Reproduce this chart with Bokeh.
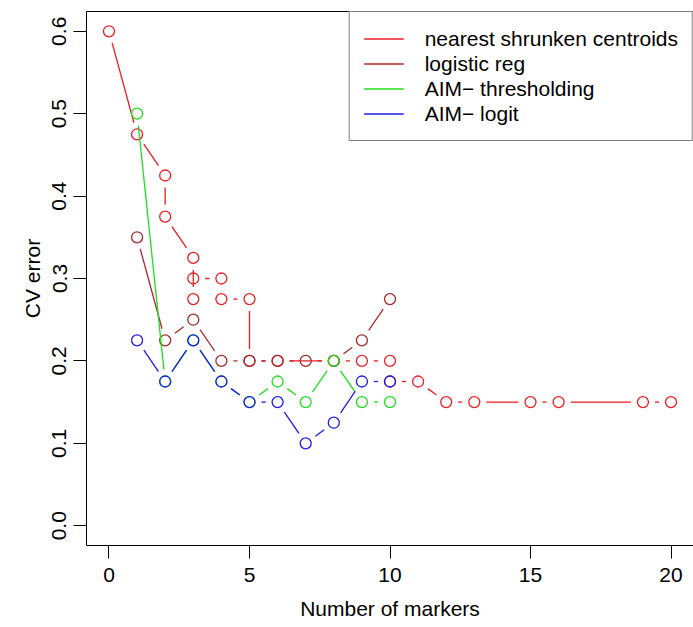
import math
from bokeh.plotting import figure
from bokeh.models import (Range1d, Legend, LegendItem, FixedTicker, LinearAxis,
                          NumeralTickFormatter, ColumnDataSource)
from bokeh.embed import file_html
from bokeh.resources import INLINE

# ---------------- data ----------------
nsc_markers = [0, 1, 2, 2, 3, 3, 3, 4, 4, 5, 5, 6, 8, 9, 10, 10, 11, 12, 13, 15, 16, 19, 20]
nsc_error = [0.6, 0.475, 0.425, 0.375, 0.325, 0.275, 0.3, 0.3, 0.275, 0.275, 0.2, 0.2,
             0.2, 0.2, 0.2, 0.175, 0.175, 0.15, 0.15, 0.15, 0.15, 0.15, 0.15]

lr_markers = [1, 2, 3, 4, 5, 6, 7, 8, 9, 10]
lr_error = [0.35, 0.225, 0.25, 0.2, 0.2, 0.2, 0.2, 0.2, 0.225, 0.275]

aimt_markers = [1, 2, 3, 4, 5, 6, 7, 8, 9, 10]
aimt_error = [0.5, 0.175, 0.225, 0.175, 0.15, 0.175, 0.15, 0.2, 0.15, 0.15]

aiml_markers = [1, 2, 3, 4, 5, 6, 7, 8, 9, 10]
aiml_error = [0.225, 0.175, 0.225, 0.175, 0.15, 0.15, 0.1, 0.125, 0.175, 0.175]

series_names = ["nearest shrunken centroids", "logistic reg",
                "AIM\u2212 thresholding", "AIM\u2212 logit"]
series_colors = ["#EE1C24", "#A52A2A", "#1EE01E", "#1C1CEE"]

x_ticks = [0, 5, 10, 15, 20]
y_ticks = [0.0, 0.1, 0.2, 0.3, 0.4, 0.5, 0.6]

# ---------------- layout ----------------
W, H = 693, 627
BL, BR, BT, BB = 86, 0, 11, 82
X0, X1 = -0.8, 20.8
Y0, Y1 = -0.024, 0.624
FW, FH = W - BL - BR, H - BT - BB
SX, SY = FW / (X1 - X0), FH / (Y1 - Y0)
GAP = 12.0  # pixel gap between points and connecting lines (R type="b")

FONT = "Liberation Sans"
FS = "21px"

p = figure(width=W, height=H, output_backend="svg", toolbar_location=None,
           x_range=Range1d(X0, X1), y_range=Range1d(Y0, Y1),
           min_border_left=BL, min_border_right=BR, min_border_top=BT,
           min_border_bottom=BB, x_axis_label="Number of markers",
           y_axis_label="CV error")
p.grid.visible = False
p.outline_line_color = None
p.background_fill_color = "white"
p.border_fill_color = "white"

for ax in (p.xaxis[0], p.yaxis[0]):
    ax.axis_line_color = "black"
    ax.axis_line_width = 1
    ax.major_tick_line_color = "black"
    ax.major_tick_in = 0
    ax.major_tick_out = 13
    ax.minor_tick_line_color = None
    ax.major_label_text_font = FONT
    ax.major_label_text_font_size = FS
    ax.major_label_text_color = "black"
    ax.axis_label_text_font = FONT
    ax.axis_label_text_font_size = FS
    ax.axis_label_text_font_style = "normal"
    ax.axis_label_text_color = "black"

p.xaxis[0].ticker = FixedTicker(ticks=x_ticks)
p.xaxis[0].formatter = NumeralTickFormatter(format="0")
p.xaxis[0].major_label_standoff = 9
p.xaxis[0].axis_label_standoff = 12

p.yaxis[0].ticker = FixedTicker(ticks=y_ticks)
p.yaxis[0].formatter = NumeralTickFormatter(format="0.0")
p.yaxis[0].major_label_orientation = "vertical"
p.yaxis[0].major_label_standoff = 7
p.yaxis[0].axis_label_standoff = 6

top = LinearAxis(ticker=FixedTicker(ticks=[]), major_tick_out=0, major_tick_in=0,
                 minor_tick_line_color=None, major_label_text_font_size="0px",
                 axis_line_color="black")
p.add_layout(top, "above")


def gapped(xs, ys):
    x0s, y0s, x1s, y1s = [], [], [], []
    for i in range(len(xs) - 1):
        dxd, dyd = xs[i + 1] - xs[i], ys[i + 1] - ys[i]
        d = math.hypot(dxd * SX, dyd * SY)
        if d > 2 * GAP:
            f = GAP / d
            x0s.append(xs[i] + f * dxd)
            y0s.append(ys[i] + f * dyd)
            x1s.append(xs[i + 1] - f * dxd)
            y1s.append(ys[i + 1] - f * dyd)
    return dict(x0=x0s, y0=y0s, x1=x1s, y1=y1s)


items = []
all_series = [(nsc_markers, nsc_error), (lr_markers, lr_error),
              (aimt_markers, aimt_error), (aiml_markers, aiml_error)]
for (xs, ys), name, col in zip(all_series, series_names, series_colors):
    seg = p.segment(x0="x0", y0="y0", x1="x1", y1="y1",
                    source=ColumnDataSource(gapped(xs, ys)),
                    line_color=col, line_width=1.3)
    p.scatter(xs, ys, marker="circle", size=11, fill_color=None,
              line_color=col, line_width=1.3)
    items.append(LegendItem(label=name, renderers=[seg]))

legend = Legend(items=items, location="top_right", margin=0, padding=14,
                spacing=0, glyph_width=40, glyph_height=25, label_height=25,
                label_standoff=21, label_text_font=FONT, label_text_font_size=FS,
                label_text_color="black", border_line_color="black",
                border_line_width=1, background_fill_color="white",
                background_fill_alpha=1.0)
p.add_layout(legend)

open("out.html", "w").write(file_html(p, INLINE))
